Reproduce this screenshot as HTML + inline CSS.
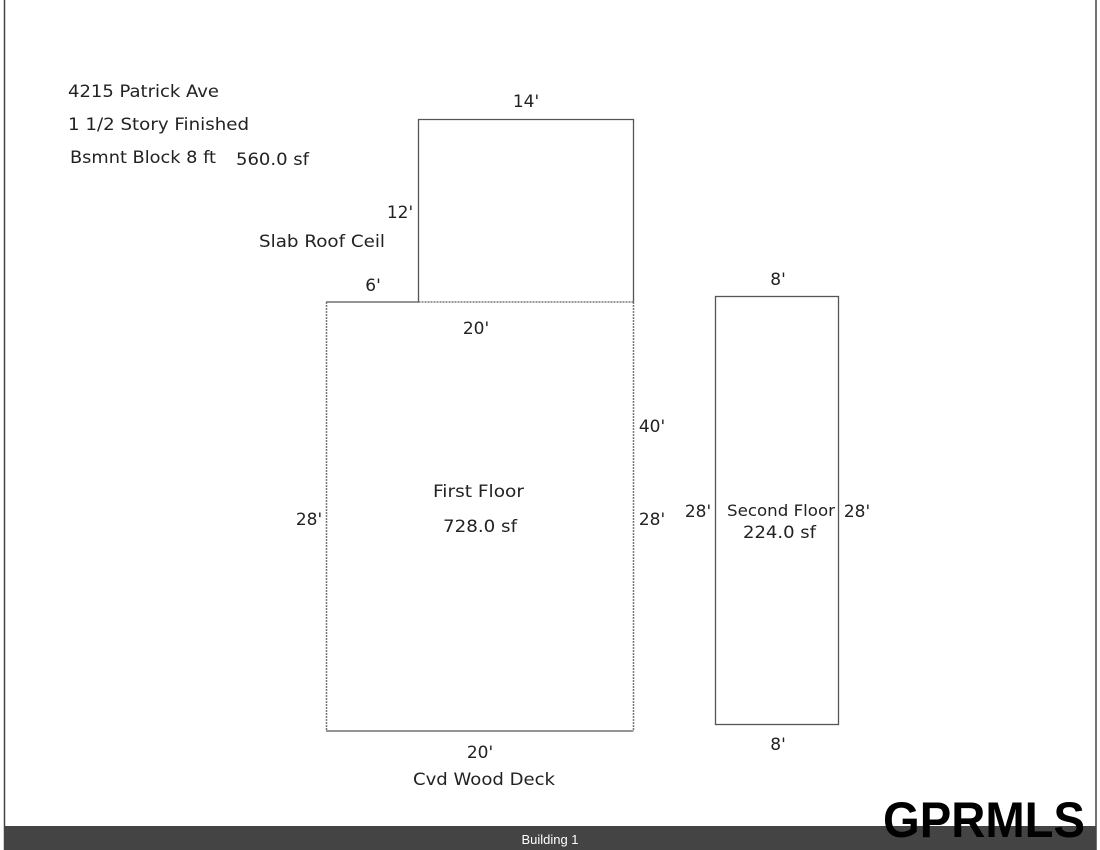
<!DOCTYPE html>
<html><head><style>
html,body{margin:0;padding:0;background:#fff;}
svg{display:block;}
text{font-family:"DejaVu Sans","Liberation Sans",sans-serif;fill:#222;}
</style></head><body>
<svg width="1100" height="850" viewBox="0 0 1100 850">
<rect width="1100" height="850" fill="#fff"/>
<line x1="4.5" y1="0" x2="4.5" y2="850" stroke="#444" stroke-width="1.5"/>
<line x1="1096" y1="0" x2="1096" y2="850" stroke="#444" stroke-width="1.5"/>
<rect x="4" y="826" width="1092" height="24" fill="#444"/>
<text x="550" y="844" text-anchor="middle" font-size="13" style="fill:#fff;font-family:'Liberation Sans',sans-serif">Building 1</text>
<text x="883" y="837" font-size="50" font-weight="bold" textLength="202" lengthAdjust="spacingAndGlyphs" style="fill:#000;font-family:'Liberation Sans',sans-serif">GPRMLS</text>

<g font-size="17">
<text x="68" y="97" textLength="151" lengthAdjust="spacingAndGlyphs">4215 Patrick Ave</text>
<text x="68" y="130" textLength="181" lengthAdjust="spacingAndGlyphs">1 1/2 Story Finished</text>
<text x="70" y="163" textLength="146" lengthAdjust="spacingAndGlyphs">Bsmnt Block 8 ft</text>
<text x="236" y="165" textLength="73" lengthAdjust="spacingAndGlyphs">560.0 sf</text>
<text x="259" y="247" textLength="126" lengthAdjust="spacingAndGlyphs">Slab Roof Ceil</text>
<text x="526" y="107" text-anchor="middle">14'</text>
<text x="400" y="218" text-anchor="middle">12'</text>
<text x="373" y="291" text-anchor="middle">6'</text>
<text x="476" y="334" text-anchor="middle">20'</text>
<text x="652" y="432" text-anchor="middle">40'</text>
<text x="309" y="525" text-anchor="middle">28'</text>
<text x="652" y="525" text-anchor="middle">28'</text>
<text x="433" y="497" textLength="91" lengthAdjust="spacingAndGlyphs">First Floor</text>
<text x="443" y="532" textLength="74" lengthAdjust="spacingAndGlyphs">728.0 sf</text>
<text x="480" y="758" text-anchor="middle">20'</text>
<text x="413" y="785" textLength="142" lengthAdjust="spacingAndGlyphs">Cvd Wood Deck</text>
<text x="778" y="285" text-anchor="middle">8'</text>
<text x="698" y="517" text-anchor="middle">28'</text>
<text x="857" y="517" text-anchor="middle">28'</text>
<text x="778" y="750" text-anchor="middle">8'</text>
<text x="743" y="538" textLength="73" lengthAdjust="spacingAndGlyphs">224.0 sf</text>
</g>
<text x="727" y="516" font-size="16" textLength="108" lengthAdjust="spacingAndGlyphs">Second Floor</text>

<g fill="none" stroke="#555" stroke-width="1.3">
<polyline points="418.5,302 418.5,119.5 633.5,119.5 633.5,302"/>
<line x1="326" y1="302" x2="418.5" y2="302"/>
<line x1="326" y1="731" x2="633.5" y2="731"/>
<rect x="715.5" y="296.5" width="123" height="428"/>
</g>
<g fill="none" stroke="#777" stroke-width="1.5" stroke-dasharray="2,1">
<line x1="418.5" y1="302" x2="633.5" y2="302"/>
<line x1="326.5" y1="302" x2="326.5" y2="731"/>
<line x1="633.5" y1="302" x2="633.5" y2="731"/>
</g>
</svg>
</body></html>
